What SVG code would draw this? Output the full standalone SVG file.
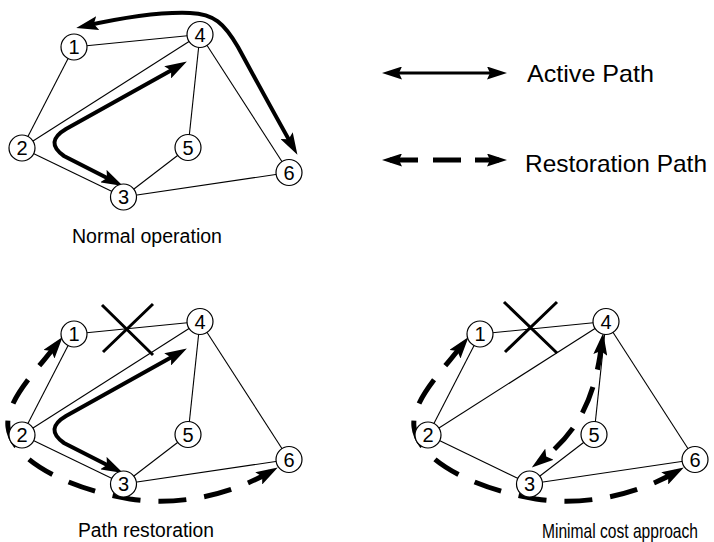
<svg xmlns="http://www.w3.org/2000/svg" width="714" height="542" viewBox="0 0 714 542">
  <style>
    .edge { stroke: #000; stroke-width: 1.1; fill: none; }
    .node circle { fill: #fff; stroke: #000; stroke-width: 1.2; }
    .node text { font-family: "Liberation Sans", Arial, sans-serif; font-size: 20px; text-anchor: middle; fill: #000; }
    .active { stroke: #000; stroke-width: 4; fill: none; marker-start: url(#ah); marker-end: url(#ah); }
    .restore { stroke: #000; stroke-width: 5; fill: none; stroke-dasharray: 28 18; marker-start: url(#ah); marker-end: url(#ah); }
    .cross { stroke: #000; stroke-width: 3; fill: none; }
    .label { font-family: "Liberation Sans", Arial, sans-serif; fill: #000; }
  </style>
  <defs>
    <marker id="ah" markerUnits="userSpaceOnUse" markerWidth="22" markerHeight="14" viewBox="0 0 22 14" refX="13" refY="7" orient="auto-start-reverse">
      <path d="M0,0 L22,7 L0,14 L4,7 Z" fill="#000"/>
    </marker>
    <marker id="ahs" markerUnits="userSpaceOnUse" markerWidth="20" markerHeight="13" viewBox="0 0 20 13" refX="12" refY="6.5" orient="auto-start-reverse">
      <path d="M0,0 L20,6.5 L0,13 L3,6.5 Z" fill="#000"/>
    </marker>
  </defs>

  <!-- Normal operation -->
  <g id="panel-normal">
    <g id="links-normal">
      <line class="edge" x1="74" y1="47" x2="200" y2="34.5"/>
      <line class="edge" x1="74" y1="47" x2="22" y2="148"/>
      <line class="edge" x1="22" y1="148" x2="200" y2="34.5"/>
      <line class="edge" x1="22" y1="148" x2="123.5" y2="197"/>
      <line class="edge" x1="123.5" y1="197" x2="188" y2="147.5"/>
      <line class="edge" x1="188" y1="147.5" x2="200" y2="34.5"/>
      <line class="edge" x1="200" y1="34.5" x2="289" y2="172.5"/>
      <line class="edge" x1="123.5" y1="197" x2="289" y2="172.5"/>
      <path class="active" d="M179,66 L66,129 Q44,142 64,156 L115,182"/>
      <path class="active" d="M85,26 C130,16 165,12 190,13 C214,14 224,23 238,47 C257,82 275,115 293,147"/>
    </g>
    <g id="n1-normal" class="node"><circle cx="74" cy="47" r="13"/><text x="74" y="54">1</text></g>
    <g id="n2-normal" class="node"><circle cx="22" cy="148" r="13"/><text x="22" y="155">2</text></g>
    <g id="n3-normal" class="node"><circle cx="123.5" cy="197" r="13"/><text x="123.5" y="204">3</text></g>
    <g id="n4-normal" class="node"><circle cx="200" cy="34.5" r="13"/><text x="200" y="41.5">4</text></g>
    <g id="n5-normal" class="node"><circle cx="188" cy="147.5" r="13"/><text x="188" y="154.5">5</text></g>
    <g id="n6-normal" class="node"><circle cx="289" cy="172.5" r="13"/><text x="289" y="179.5">6</text></g>
    <text class="label" x="72" y="243" font-size="20" textLength="150" lengthAdjust="spacingAndGlyphs">Normal operation</text>
  </g>

  <!-- Legend -->
  <g id="legend">
    <g id="legend-connectors">
      <path d="M390,73 L499,73" stroke="#000" stroke-width="3" fill="none" marker-start="url(#ahs)" marker-end="url(#ahs)"/>
      <path d="M390,160 L499,160" stroke="#000" stroke-width="5" fill="none" stroke-dasharray="28 15 28 14 30" marker-start="url(#ahs)" marker-end="url(#ahs)"/>
    </g>
    <text class="label" x="527" y="82" font-size="24" textLength="127" lengthAdjust="spacingAndGlyphs">Active Path</text>
    <text class="label" x="525" y="172" font-size="24" textLength="182" lengthAdjust="spacingAndGlyphs">Restoration Path</text>
  </g>

  <!-- Path restoration -->
  <g id="panel-path-restoration" transform="translate(0,287)">
    <g id="links-path-restoration">
      <line class="edge" x1="74" y1="47" x2="200" y2="34.5"/>
      <line class="edge" x1="74" y1="47" x2="22" y2="148"/>
      <line class="edge" x1="22" y1="148" x2="200" y2="34.5"/>
      <line class="edge" x1="22" y1="148" x2="123.5" y2="197"/>
      <line class="edge" x1="123.5" y1="197" x2="188" y2="147.5"/>
      <line class="edge" x1="188" y1="147.5" x2="200" y2="34.5"/>
      <line class="edge" x1="200" y1="34.5" x2="289" y2="172.5"/>
      <line class="edge" x1="123.5" y1="197" x2="289" y2="172.5"/>
      <path class="cross" d="M102,18 L153,68 M103,65 L153,17"/>
      <path class="active" d="M179,66 L66,129 Q44,142 64,156 L115,182"/>
      <path class="restore" d="M57,57 C35,85 5,115 8,140 C11,170 60,200 130,212 C185,220 235,205 270,185"/>
    </g>
    <g id="n1-path-restoration" class="node"><circle cx="74" cy="47" r="13"/><text x="74" y="54">1</text></g>
    <g id="n2-path-restoration" class="node"><circle cx="22" cy="148" r="13"/><text x="22" y="155">2</text></g>
    <g id="n3-path-restoration" class="node"><circle cx="123.5" cy="197" r="13"/><text x="123.5" y="204">3</text></g>
    <g id="n4-path-restoration" class="node"><circle cx="200" cy="34.5" r="13"/><text x="200" y="41.5">4</text></g>
    <g id="n5-path-restoration" class="node"><circle cx="188" cy="147.5" r="13"/><text x="188" y="154.5">5</text></g>
    <g id="n6-path-restoration" class="node"><circle cx="289" cy="172.5" r="13"/><text x="289" y="179.5">6</text></g>
    <text class="label" x="78" y="250" font-size="19.5" textLength="136" lengthAdjust="spacingAndGlyphs">Path restoration</text>
  </g>

  <!-- Minimal cost approach -->
  <g id="panel-minimal-cost" transform="translate(406,287)">
    <g id="links-minimal-cost">
      <line class="edge" x1="74" y1="47" x2="200" y2="34.5"/>
      <line class="edge" x1="74" y1="47" x2="22" y2="148"/>
      <line class="edge" x1="22" y1="148" x2="200" y2="34.5"/>
      <line class="edge" x1="22" y1="148" x2="123.5" y2="197"/>
      <line class="edge" x1="123.5" y1="197" x2="188" y2="147.5"/>
      <line class="edge" x1="188" y1="147.5" x2="200" y2="34.5"/>
      <line class="edge" x1="200" y1="34.5" x2="289" y2="172.5"/>
      <line class="edge" x1="123.5" y1="197" x2="289" y2="172.5"/>
      <path class="cross" d="M98,15 L151,66 M99,65 L151,15"/>
      <path class="restore" d="M57,57 C35,85 5,115 8,140 C11,170 60,200 130,212 C185,220 235,205 270,185"/>
      <path class="restore" d="M196,55 C190,100 180,140 133,175"/>
    </g>
    <g id="n1-minimal-cost" class="node"><circle cx="74" cy="47" r="13"/><text x="74" y="54">1</text></g>
    <g id="n2-minimal-cost" class="node"><circle cx="22" cy="148" r="13"/><text x="22" y="155">2</text></g>
    <g id="n3-minimal-cost" class="node"><circle cx="123.5" cy="197" r="13"/><text x="123.5" y="204">3</text></g>
    <g id="n4-minimal-cost" class="node"><circle cx="200" cy="34.5" r="13"/><text x="200" y="41.5">4</text></g>
    <g id="n5-minimal-cost" class="node"><circle cx="188" cy="147.5" r="13"/><text x="188" y="154.5">5</text></g>
    <g id="n6-minimal-cost" class="node"><circle cx="289" cy="172.5" r="13"/><text x="289" y="179.5">6</text></g>
    <text class="label" transform="translate(136,251) scale(0.78,1)" x="0" y="0" font-size="20">Minimal cost approach</text>
  </g>
</svg>
